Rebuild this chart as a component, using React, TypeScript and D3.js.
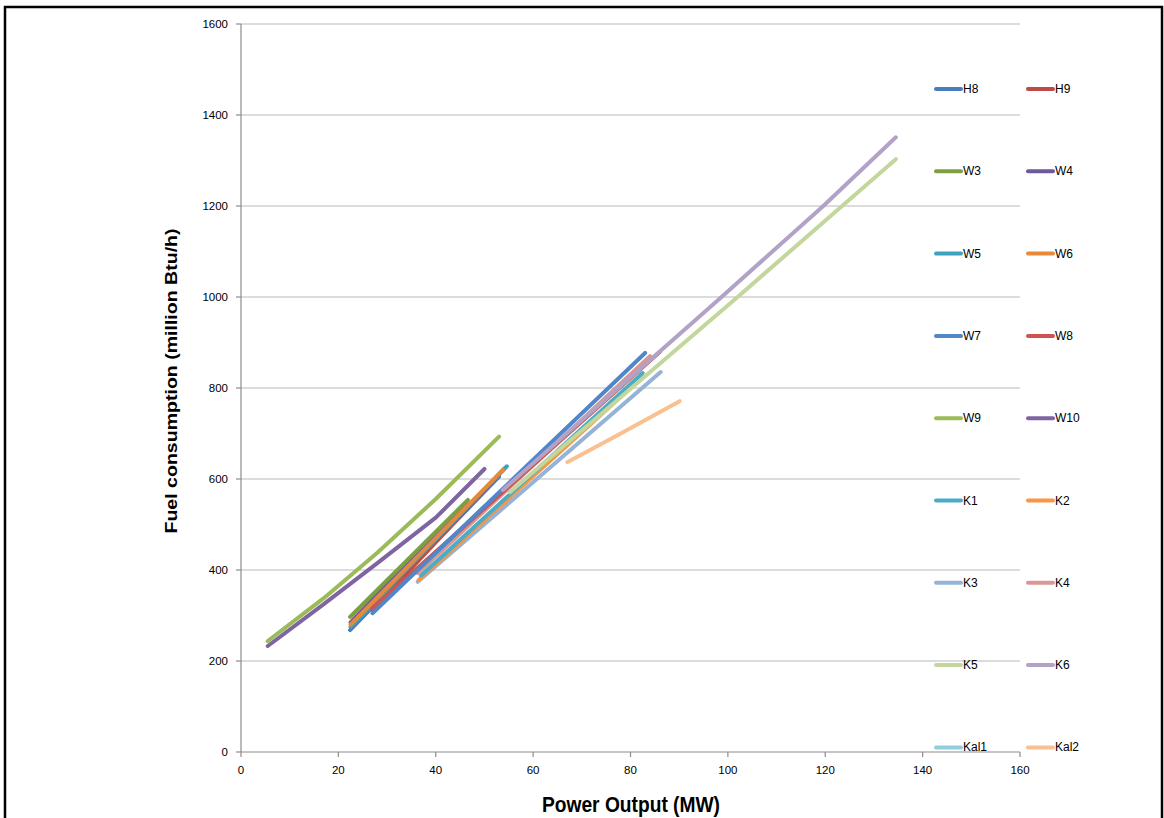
import React from "react";
import * as d3 from "d3";

const seriesNames = ["H8","H9","W3","W4","W5","W6","W7","W8","W9","W10","K1","K2","K3","K4","K5","K6","Kal1","Kal2"];
const seriesColors = ["#4A7EBB","#BE4B48","#7E9E45","#71589A","#3FA3BD","#E58A3C","#5187C8","#CD5450","#9BBB59","#8064A2","#4BACC6","#F79646","#95B3D7","#D99694","#C3D69B","#B3A2C7","#93CDDD","#FAC090"];

// x values (MW) and y values (million Btu/h) per series
const xH8 = [22.4, 53];           const yH8 = [268, 605];
const xH9 = [27, 54];             const yH9 = [312, 622];
const xW3 = [22.4, 46.6];         const yW3 = [297, 554];
const xW4 = [22.5, 46.3];         const yW4 = [285, 548];
const xW5 = [22.5, 54.6];         const yW5 = [275, 628];
const xW6 = [22.5, 53.8];         const yW6 = [280, 620];
const xW7 = [27, 83];             const yW7 = [305, 877];
const xW8 = [27, 86];             const yW8 = [316, 879];
const xW9 = [5.5, 17, 28, 40, 53]; const yW9 = [244, 338, 438, 556, 693];
const xW10 = [5.5, 17, 28, 40, 50]; const yW10 = [233, 325, 415, 515, 622];
const xK1 = [37, 82.5];           const yK1 = [388, 833];
const xK2 = [36.5, 81];           const yK2 = [378, 810];
const xK3 = [36.3, 86.2];         const yK3 = [374, 835];
const xK4 = [36.3, 84];           const yK4 = [393, 870];
const xK5 = [55.2, 102, 134.5];   const yK5 = [571, 1000, 1303];
const xK6 = [53.8, 98.7, 119.6, 134.5]; const yK6 = [576, 1000, 1200, 1351];
const xKal1 = [37, 82];           const yKal1 = [385, 825];
const xKal2 = [67, 78, 90.1];     const yKal2 = [637, 700, 771];

const seriesX = [xH8,xH9,xW3,xW4,xW5,xW6,xW7,xW8,xW9,xW10,xK1,xK2,xK3,xK4,xK5,xK6,xKal1,xKal2];
const seriesY = [yH8,yH9,yW3,yW4,yW5,yW6,yW7,yW8,yW9,yW10,yK1,yK2,yK3,yK4,yK5,yK6,yKal1,yKal2];

const xTicks = [0, 20, 40, 60, 80, 100, 120, 140, 160];
const yTicks = [0, 200, 400, 600, 800, 1000, 1200, 1400, 1600];

const drawOrder = [16, 12, 13, 11, 10, 0, 1, 3, 2, 4, 5, 7, 6, 9, 8, 14, 15, 17];

export default function App() {
  const W = 1164, H = 818;
  const left = 241, right = 1020, top = 24, bottom = 752;
  const x = d3.scaleLinear().domain([0, 160]).range([left, right]);
  const y = d3.scaleLinear().domain([0, 1600]).range([bottom, top]);
  const line = d3.line<[number, number]>().x(d => x(d[0])).y(d => y(d[1]));
  const font = "'Liberation Sans', Arial, sans-serif";

  return (
    <svg width={W} height={H} style={{ position: "absolute", left: 0, top: 0, background: "#fff" }}>
      <rect x={5} y={7} width={1157} height={830} fill="#fff" stroke="#000" strokeWidth={2.5} />
      {yTicks.filter(t => t > 0).map(t => (
        <line key={"g" + t} x1={left} x2={right} y1={y(t)} y2={y(t)} stroke="#D0D0D0" strokeWidth={1.3} />
      ))}
      <line x1={left} x2={left} y1={top} y2={bottom} stroke="#8C8C8C" strokeWidth={1.2} />
      <line x1={left} x2={right} y1={bottom} y2={bottom} stroke="#8C8C8C" strokeWidth={1.2} />
      {yTicks.map(t => (
        <g key={"yt" + t}>
          <line x1={left - 5} x2={left} y1={y(t)} y2={y(t)} stroke="#8C8C8C" strokeWidth={1.2} />
          <text x={228} y={y(t) + 4} textAnchor="end" fontFamily={font} fontSize={11.5} fill="#000">{t}</text>
        </g>
      ))}
      {xTicks.map(t => (
        <g key={"xt" + t}>
          <line x1={x(t)} x2={x(t)} y1={bottom} y2={bottom + 5} stroke="#8C8C8C" strokeWidth={1.2} />
          <text x={x(t)} y={774} textAnchor="middle" fontFamily={font} fontSize={11.5} fill="#000">{t}</text>
        </g>
      ))}
      {drawOrder.map(i => {
        const pts = seriesX[i].map((v, k) => [v, seriesY[i][k]] as [number, number]);
        return (
          <path key={"s" + i} d={line(pts) || ""} fill="none" stroke={seriesColors[i]} strokeWidth={4} strokeLinecap="round" strokeLinejoin="round" />
        );
      })}
      {seriesNames.map((n, i) => {
        const row = Math.floor(i / 2), col = i % 2;
        const ly = 89 + row * 82.3;
        const lx = col === 0 ? 936 : 1028;
        return (
          <g key={"l" + n}>
            <line x1={lx} x2={lx + 25} y1={ly} y2={ly} stroke={seriesColors[i]} strokeWidth={4} strokeLinecap="round" />
            <text x={lx + 27} y={ly + 4} fontFamily={font} fontSize={12} fill="#000">{n}</text>
          </g>
        );
      })}
      <text transform="translate(177,381) rotate(-90)" textAnchor="middle" fontFamily={font} fontWeight="bold" fontSize={17} textLength={305} lengthAdjust="spacingAndGlyphs" fill="#000">Fuel consumption (million Btu/h)</text>
      <text x={631} y={812} textAnchor="middle" fontFamily={font} fontWeight="bold" fontSize={22} textLength={178} lengthAdjust="spacingAndGlyphs" fill="#000">Power Output (MW)</text>
    </svg>
  );
}
